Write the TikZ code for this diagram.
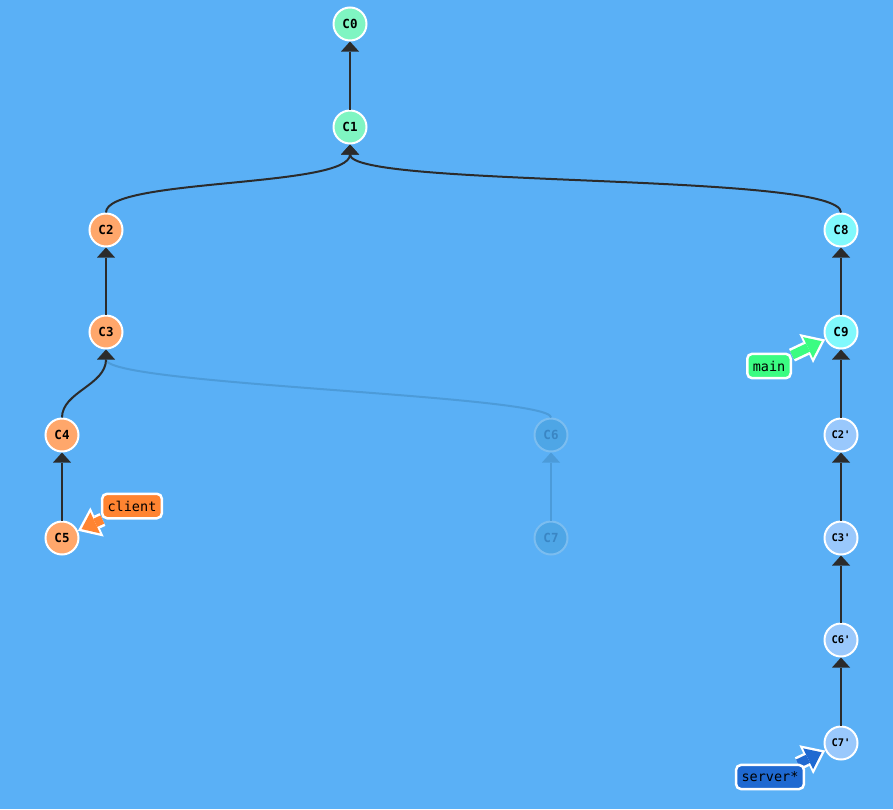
\documentclass[tikz,border=0pt]{standalone}
\usepackage{fontspec}
\setmonofont{DejaVu Sans Mono}
\usetikzlibrary{arrows.meta}
\definecolor{bgblue}{HTML}{5AB0F6}
\definecolor{mint}{HTML}{7FF5C2}
\definecolor{orng}{HTML}{FFA76B}
\definecolor{cyanc}{HTML}{80F9FC}
\definecolor{lblue}{HTML}{99C8FC}
\definecolor{fadefill}{HTML}{4EA6E6}
\definecolor{fadeline}{HTML}{7BBDF0}
\definecolor{fadetext}{HTML}{3A86C4}
\definecolor{fadeedge}{HTML}{4C9BD9}
\definecolor{edgec}{HTML}{2B2B2B}
\definecolor{clientc}{HTML}{FF8431}
\definecolor{mainc}{HTML}{3BFC82}
\definecolor{serverc}{HTML}{1F69D1}
\pgfdeclarelayer{back}
\pgfdeclarelayer{mid}
\pgfsetlayers{back,mid,main}
\tikzset{
  commit/.style={circle, draw=white, line width=2pt, minimum size=33pt, inner sep=0pt,
    font=\ttfamily\bfseries\fontsize{12.5}{12.5}\selectfont, text=black},
  rcommit/.style={commit, fill=lblue, font=\ttfamily\bfseries\fontsize{10.5}{10.5}\selectfont},
  fcommit/.style={commit, fill=fadefill, draw=fadeline, text=fadetext},
  edge/.style={draw=edgec, line width=2pt, -{Triangle[width=18pt,length=10pt,line width=0pt]}},
  fedge/.style={edge, draw=fadeedge, -{Triangle[width=18pt,length=10pt,line width=0pt,fill=fadeedge]}},
  lbl/.style={rectangle, rounded corners=5pt, draw=white, line width=2.5pt,
    font=\ttfamily\fontsize{13.5}{13.5}\selectfont, text=black, inner xsep=5.5pt, inner ysep=7pt},
  lblunder/.style={draw=white, line width=14pt, -{Triangle[width=32pt,length=21pt,line width=0pt]}},
  lblover/.style={line width=9pt, shorten >=4pt, -{Triangle[width=23pt,length=15pt,line width=0pt]}},
}
\begin{document}
\begin{tikzpicture}[x=1pt,y=-1pt]
\begin{pgfonlayer}{back}
\fill[bgblue] (0,0) rectangle (893,809);
\end{pgfonlayer}
\useasboundingbox (0,0) rectangle (893,809);
% commits
\node[commit, fill=mint] (C0) at (350,24) {C0};
\node[commit, fill=mint] (C1) at (350,127) {C1};
\node[commit, fill=orng] (C2) at (106,230) {C2};
\node[commit, fill=orng] (C3) at (106,332) {C3};
\node[commit, fill=orng] (C4) at (62,435) {C4};
\node[commit, fill=orng] (C5) at (62,538) {C5};
\node[fcommit] (C6) at (551,435) {C6};
\node[fcommit] (C7) at (551,538) {C7};
\node[commit, fill=cyanc] (C8) at (841,230) {C8};
\node[commit, fill=cyanc] (C9) at (841,332) {C9};
\node[rcommit] (C2r) at (841,435) {C2'};
\node[rcommit] (C3r) at (841,538) {C3'};
\node[rcommit] (C6r) at (841,640) {C6'};
\node[rcommit] (C7r) at (841,743) {C7'};
% faded edges first
\draw[fedge] (C6.north) .. controls (551,395) and (106,385) .. (C3.south);
\draw[fedge] (C7) -- (C6);
% edges
\draw[edge] (C1) -- (C0);
\draw[edge] (C2.north) .. controls (106,178) and (350,188) .. (C1.south);
\draw[edge] (C8.north) .. controls (841,172) and (350,188) .. (C1.south);
\draw[edge] (C3) -- (C2);
\draw[edge] (C4.north) .. controls (62,392) and (106,385) .. (C3.south);
\draw[edge] (C5) -- (C4);
\draw[edge] (C9) -- (C8);
\draw[edge] (C2r) -- (C9);
\draw[edge] (C3r) -- (C2r);
\draw[edge] (C6r) -- (C3r);
\draw[edge] (C7r) -- (C6r);
% branch labels
\node[lbl, fill=clientc] (client) at (132,506) {client};
\node[lbl, fill=mainc] (main) at (769,366) {main};
\node[lbl, fill=serverc] (server) at (770,777) {server*};
\begin{pgfonlayer}{mid}
\draw[lblunder] (client) -- (C5);
\draw[lblover, draw=clientc, -{Triangle[width=23pt,length=15pt,line width=0pt,fill=clientc]}] (client) -- (C5);
\draw[lblunder] (main) -- (C9);
\draw[lblover, draw=mainc, -{Triangle[width=23pt,length=15pt,line width=0pt,fill=mainc]}] (main) -- (C9);
\draw[lblunder] (server) -- (C7r);
\draw[lblover, draw=serverc, -{Triangle[width=23pt,length=15pt,line width=0pt,fill=serverc]}] (server) -- (C7r);
\end{pgfonlayer}
\end{tikzpicture}
\end{document}
